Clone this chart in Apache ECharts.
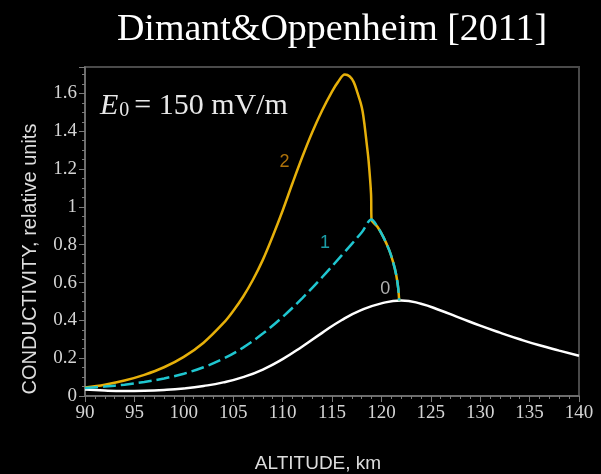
<!DOCTYPE html>
<html><head><meta charset="utf-8">
<script src="https://cdn.jsdelivr.net/npm/echarts@6/dist/echarts.min.js"></script>
<style>html,body{margin:0;padding:0;background:#000;}#c{width:601px;height:474px;}</style>
</head><body><div id="c"></div>
<script>
const titleText = 'Dimant&Oppenheim [2011]';
const xTitle = 'ALTITUDE, km';
const yTitle = 'CONDUCTIVITY, relative units';
const xTicks = {min: 90, max: 140, interval: 5};
const yTicks = {min: 0, max: 1.74, interval: 0.2};

// curve 0 (E0 = 0)
const altitude0 = [90,92,94,96,98,100,102,104,106,108,110,112,114,116,118,120,122,124,126,128,130,132,134,136,138,140];
const sigma0 = [0.034,0.029,0.027,0.028,0.032,0.040,0.053,0.072,0.100,0.140,0.195,0.262,0.334,0.402,0.455,0.490,0.505,0.488,0.452,0.412,0.372,0.335,0.300,0.268,0.240,0.213];
// curve 1
const altitude1 = [90,92,94,96,98,100,102,104,106,108,110,112,114,116,118,119.0,119.6,120.2,120.8,121.2,121.5,121.7,121.8];
const sigma1 = [0.042,0.050,0.060,0.074,0.093,0.118,0.152,0.197,0.256,0.330,0.418,0.518,0.628,0.745,0.865,0.933,0.895,0.840,0.770,0.705,0.640,0.570,0.505];
// curve 2
const altitude2 = [90,92,94,96,98,100,102,104,105,106,107,108,109,110,111,112,113,114,115,115.6,116.3,116.8,117.2,117.6,117.9,118.1,118.3,118.5,118.7,118.95,119.0,119.6,120.2,120.8,121.2,121.5,121.7,121.8];
const sigma2 = [0.045,0.060,0.082,0.112,0.152,0.207,0.282,0.385,0.450,0.525,0.615,0.720,0.845,0.980,1.125,1.265,1.395,1.510,1.610,1.660,1.700,1.690,1.660,1.600,1.550,1.505,1.430,1.340,1.246,1.070,0.933,0.895,0.840,0.770,0.705,0.640,0.570,0.505];

// curve annotations
const curveLabelText = ['0','1','2'];
const curveLabelX = [120.4, 114.3, 110.2];
const curveLabelY = [0.565, 0.808, 1.235];
const curveLabelColor = ['#dddddd','#22c3cf','#d98e0c'];

const pairs = (xs, ys) => xs.map((x, i) => [x, ys[i]]);

const chart = echarts.init(document.getElementById('c'), null, {renderer: 'canvas'});
const serif = '"Liberation Serif", "Times New Roman", serif';
const sans = '"Liberation Sans", Arial, sans-serif';
const axisGray = '#7a7a7a';
const txt = '#e8e8e8';

chart.setOption({
  backgroundColor: '#000',
  animation: false,
  grid: {left: 85, right: 22, top: 67, bottom: 78, show: true, borderColor: '#4a4a4a', borderWidth: 2},
  xAxis: {
    type: 'value', min: xTicks.min, max: xTicks.max, interval: xTicks.interval,
    axisLine: {show: true, lineStyle: {color: axisGray, width: 1.5}},
    axisTick: {show: true, length: 6, lineStyle: {color: axisGray}},
    minorTick: {show: true, splitNumber: 5, length: 3, lineStyle: {color: axisGray}},
    splitLine: {show: false},
    axisLabel: {color: '#d4d4d4', fontFamily: serif, fontSize: 19, margin: 8}
  },
  yAxis: {
    type: 'value', min: yTicks.min, max: yTicks.max, interval: yTicks.interval,
    axisLine: {show: true, lineStyle: {color: axisGray, width: 1.5}},
    axisTick: {show: true, length: 6, lineStyle: {color: axisGray}},
    minorTick: {show: true, splitNumber: 4, length: 3, lineStyle: {color: axisGray}},
    splitLine: {show: false},
    axisLabel: {color: '#d4d4d4', fontFamily: serif, fontSize: 19, margin: 8, showMaxLabel: false,
      formatter: v => String(Math.round(v * 10) / 10)}
  },
  series: [
    {type: 'line', data: pairs(altitude0, sigma0), smooth: 0.5, showSymbol: false, symbol: 'none',
      lineStyle: {color: '#ffffff', width: 2.5}, z: 2},
    {type: 'line', data: pairs(altitude2, sigma2), smooth: 0.35, showSymbol: false, symbol: 'none',
      lineStyle: {color: '#e6b00a', width: 2.5}, z: 3},
    {type: 'line', data: pairs(altitude1, sigma1), smooth: 0.35, showSymbol: false, symbol: 'none',
      lineStyle: {color: '#1fc6d0', width: 2.5, type: [13, 5]}, z: 4},
    {type: 'scatter', symbolSize: 0, z: 5,
      data: curveLabelX.map((x, i) => ({value: [x, curveLabelY[i]],
        label: {show: true, position: 'inside', formatter: curveLabelText[i], color: curveLabelColor[i],
          fontFamily: sans, fontSize: 18}}))}
  ],
  graphic: [
    {type: 'text', x: 332, y: 30, style: {text: titleText, fill: '#ffffff', font: '38px ' + serif, align: 'center', verticalAlign: 'middle'}},
    {type: 'text', x: 318, y: 464, style: {text: xTitle, fill: '#dddddd', font: '19px ' + sans, align: 'center', verticalAlign: 'middle'}},
    {type: 'text', x: 30, y: 259, rotation: Math.PI / 2, style: {text: yTitle, fill: '#dddddd', font: '20px ' + sans, align: 'center', verticalAlign: 'middle'}},
    {type: 'text', x: 100, y: 104, style: {
      text: '{e|E}{s|0}{n|= 150 mV/m}', verticalAlign: 'middle', align: 'left', fill: txt,
      rich: {
        e: {fontFamily: serif, fontStyle: 'italic', fontSize: 30, fill: txt, verticalAlign: 'bottom'},
        s: {fontFamily: serif, fontSize: 20, fill: txt, padding: [14, 5, 0, 1], verticalAlign: 'bottom'},
        n: {fontFamily: serif, fontSize: 30, fill: txt, verticalAlign: 'bottom'}
      }}}
  ]
});
</script></body></html>
